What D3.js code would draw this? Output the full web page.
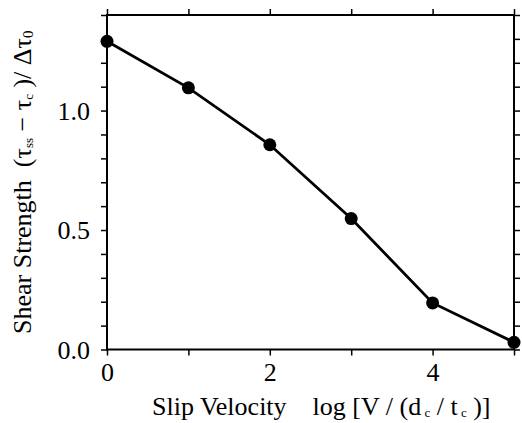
<!DOCTYPE html>
<html>
<head>
<meta charset="utf-8">
<script src="https://cdn.jsdelivr.net/npm/d3@7"></script>
<style>
  body { margin: 0; background: #fff; }
  svg text { font-family: "Liberation Serif", "Times New Roman", serif; fill: #000; }
</style>
</head>
<body>
<div class="chart"></div>
<script>
// log slip velocity vs normalized shear strength
var velocity = [0, 1, 2, 3, 4, 5];
var strength = [1.29, 1.095, 0.857, 0.548, 0.195, 0.03];

var xTicks = [0, 1, 2, 3, 4, 5];
var xLabels = [0, 2, 4];
var yTicks = [0, 0.1, 0.2, 0.3, 0.4, 0.5, 0.6, 0.7, 0.8, 0.9, 1.0, 1.1, 1.2, 1.3, 1.4];
var yLabels = [0, 0.5, 1.0];

var width = 522, height = 423;
// plot box edges (don't call these top/left, window.top is read-only)
var x0 = 107, x1 = 514, y0 = 15, y1 = 349.5;

var svg = d3.select('.chart')
  .append('svg')
    .attr('width', width)
    .attr('height', height);

var x = d3.scaleLinear().domain([0, 5]).range([x0, x1]);
var y = d3.scaleLinear().domain([0, 1.4]).range([y1, y0]);

// ticks on all four sides, pointing outwards
function styleAxis(g) {
  g.select('.domain').remove();
  g.selectAll('line').attr('stroke', '#000').attr('stroke-width', 1.5);
  g.selectAll('text').style('font-size', '26px');
}

var fmtX = d => xLabels.indexOf(d) >= 0 ? d : '';
var fmtY = d => yLabels.some(v => Math.abs(v - d) < 1e-9) ? d3.format('.1f')(d) : '';

svg.append('g')
  .attr('transform', 'translate(0,' + y1 + ')')
  .call(d3.axisBottom(x).tickValues(xTicks).tickSize(6).tickPadding(7).tickFormat(fmtX))
  .call(styleAxis);

svg.append('g')
  .attr('transform', 'translate(0,' + y0 + ')')
  .call(d3.axisTop(x).tickValues(xTicks).tickSize(6).tickFormat(''))
  .call(styleAxis);

svg.append('g')
  .attr('transform', 'translate(' + x0 + ',0)')
  .call(d3.axisLeft(y).tickValues(yTicks).tickSize(6).tickPadding(11).tickFormat(fmtY))
  .call(styleAxis)
  .selectAll('text').attr('dy', '0.34em');

svg.append('g')
  .attr('transform', 'translate(' + x1 + ',0)')
  .call(d3.axisRight(y).tickValues(yTicks).tickSize(6).tickFormat(''))
  .call(styleAxis);

// frame
svg.append('rect')
  .attr('x', x0)
  .attr('y', y0)
  .attr('width', x1 - x0)
  .attr('height', y1 - y0)
  .attr('fill', 'none')
  .attr('stroke', '#000')
  .attr('stroke-width', 2);

var pts = velocity.map((v, i) => ({ v: v, s: strength[i] }));

svg.append('path')
  .datum(pts)
  .attr('fill', 'none')
  .attr('stroke', '#000')
  .attr('stroke-width', 2.8)
  .attr('d', d3.line().x(d => x(d.v)).y(d => y(d.s)));

svg.selectAll('circle')
  .data(pts)
  .enter()
  .append('circle')
    .attr('cx', d => x(d.v))
    .attr('cy', d => y(d.s))
    .attr('r', 6.5)
    .attr('fill', '#000');

// x axis title
var xt = svg.append('text')
  .attr('x', 152)
  .attr('y', 415)
  .style('font-size', '26px')
  .attr('xml:space', 'preserve');
xt.append('tspan').text('Slip Velocity    log [V / (d');
xt.append('tspan').attr('dy', 2).style('font-size', '13px').text(' c');
xt.append('tspan').attr('dy', -2).text(' / t');
xt.append('tspan').attr('dy', 2).style('font-size', '13px').text(' c');
xt.append('tspan').attr('dy', -2).text(' )]');

// y axis title
var yt = svg.append('text')
  .attr('transform', 'translate(31,' + ((y0 + y1) / 2) + ') rotate(-90)')
  .attr('text-anchor', 'middle')
  .style('font-size', '26px')
  .attr('xml:space', 'preserve');
yt.append('tspan').text('Shear Strength  (τ');
yt.append('tspan').attr('dy', 2).style('font-size', '13px').text('ss');
yt.append('tspan').attr('dy', -2).text(' − τ');
yt.append('tspan').attr('dy', 2).style('font-size', '13px').text('c');
yt.append('tspan').attr('dy', -2).text(' )/ Δτ');
yt.append('tspan').attr('dy', 2).style('font-size', '15px').text('0');
</script>
</body>
</html>
